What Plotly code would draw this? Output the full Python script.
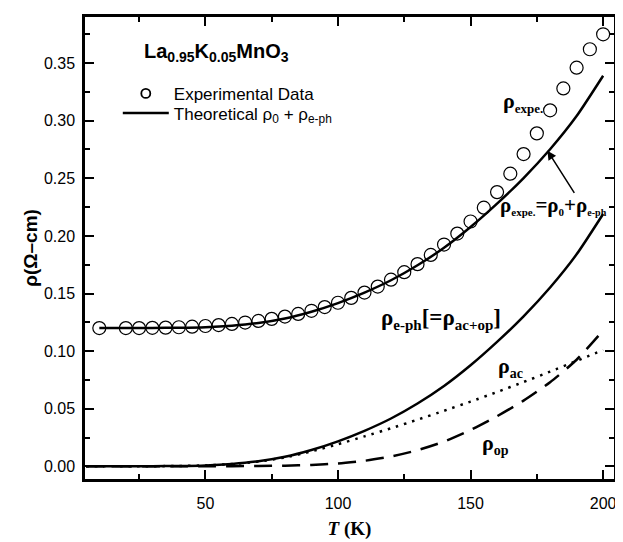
import plotly.graph_objects as go

# ---------------- data ----------------
T_exp = [10, 20, 25, 30, 35, 40, 45, 50, 55, 60, 65, 70, 75, 80, 85, 90, 95, 100,
         105, 110, 115, 120, 125, 130, 135, 140, 145, 150, 155, 160, 165, 170,
         175, 180, 185, 190, 195, 200]
rho_exp = [0.1200, 0.1200, 0.1200, 0.1202, 0.1204, 0.1207, 0.1212, 0.1218, 0.1226,
           0.1236, 0.1248, 0.1262, 0.1280, 0.1300, 0.1323, 0.1350, 0.1382, 0.1420,
           0.1462, 0.1508, 0.1560, 0.1620, 0.1685, 0.1755, 0.1835, 0.1925, 0.2020,
           0.2125, 0.2245, 0.2380, 0.2540, 0.2710, 0.2890, 0.3090, 0.3280, 0.3460,
           0.3620, 0.3750]

T_th = [5, 10, 20, 30, 40, 50, 60, 70, 80, 90, 100, 110, 120, 130, 140, 150,
        160, 170, 180, 190, 200]
rho_ac = [0.0, 0.0, 0.0, 0.0001, 0.0003, 0.0008, 0.0020, 0.0041, 0.0077, 0.0130,
          0.0192, 0.0260, 0.0330, 0.0405, 0.0482, 0.0562, 0.0645, 0.0732, 0.0822,
          0.0915, 0.1010]
rho_op = [0.0, 0.0, 0.0, 0.0, 0.0, 0.0, 0.0001, 0.0003, 0.0006, 0.0012, 0.0025,
          0.0048, 0.0085, 0.0140, 0.0215, 0.0315, 0.0435, 0.0570, 0.0730, 0.0925,
          0.1180]
rho_eph = [0.0, 0.0, 0.0, 0.0001, 0.0003, 0.0008, 0.0021, 0.0044, 0.0083, 0.0142,
           0.0217, 0.0308, 0.0415, 0.0545, 0.0697, 0.0877, 0.1080, 0.1302, 0.1552,
           0.1840, 0.2190]

T_tot = [10, 20, 30, 40, 50, 60, 70, 80, 90, 100, 110, 120, 130, 140, 150, 160,
         170, 180, 190, 200]
rho_tot = [0.1200, 0.1200, 0.1201, 0.1203, 0.1208, 0.1221, 0.1244, 0.1283, 0.1342,
           0.1417, 0.1508, 0.1615, 0.1745, 0.1897, 0.2077, 0.2280, 0.2502, 0.2752,
           0.3040, 0.3390]

x_ticks = [50, 100, 150, 200]
y_ticks = [0.00, 0.05, 0.10, 0.15, 0.20, 0.25, 0.30, 0.35]
y_tick_labels = ["0.00", "0.05", "0.10", "0.15", "0.20", "0.25", "0.30", "0.35"]

# ---------------- figure ----------------
SANS = "Liberation Sans, Arial, sans-serif"
SERIF = "Liberation Serif, Times New Roman, serif"

fig = go.Figure()

# experimental points
fig.add_trace(go.Scatter(
    x=T_exp, y=rho_exp, mode="markers", name="Experimental Data", showlegend=False,
    marker=dict(symbol="circle-open", size=13, color="black", line=dict(width=1.2, color="black")),
))
# legend entry for the points (smaller symbol, as in the reference legend)
fig.add_trace(go.Scatter(
    x=[None], y=[None], mode="markers", name="Experimental Data", legend="legend",
    marker=dict(symbol="circle-open", size=9, color="black", line=dict(width=1.8, color="black")),
))
fig.add_trace(go.Scatter(
    x=T_tot, y=rho_tot, mode="lines", name="Theoretical ρ<sub>0</sub> + ρ<sub>e-ph</sub>",
    legend="legend2",
    line=dict(color="black", width=2.5, shape="spline", smoothing=0.6),
))
fig.add_trace(go.Scatter(
    x=T_th, y=rho_eph, mode="lines", showlegend=False,
    line=dict(color="black", width=2.5, shape="spline", smoothing=0.6),
))
fig.add_trace(go.Scatter(
    x=T_th, y=rho_ac, mode="lines", showlegend=False,
    line=dict(color="black", width=2.5, dash="2.5px,6px", shape="spline", smoothing=0.6),
))
fig.add_trace(go.Scatter(
    x=T_th, y=rho_op, mode="lines", showlegend=False,
    line=dict(color="black", width=2.5, dash="18px,10px", shape="spline", smoothing=0.6),
))

axis_common = dict(
    showline=True, linecolor="black", linewidth=2.5, mirror="ticks",
    ticks="inside", ticklen=9, tickwidth=2, tickcolor="black",
    showgrid=False, zeroline=False,
    tickfont=dict(family=SANS, size=16, color="black"),
)

fig.update_xaxes(
    range=[4.6, 204.1], tickvals=x_ticks, ticktext=[str(v) for v in x_ticks],
    ticklabelstandoff=8,
    minor=dict(dtick=25, tick0=0, ticks="inside", ticklen=5, tickwidth=2, tickcolor="black"),
    title=dict(text="<b><i>T</i> (K)</b>", font=dict(family=SERIF, size=19, color="black"), standoff=11),
    **axis_common,
)
fig.update_yaxes(
    range=[-0.011, 0.390], tickvals=y_ticks, ticktext=y_tick_labels,
    ticklabelstandoff=4,
    minor=dict(dtick=0.025, tick0=0, ticks="inside", ticklen=5, tickwidth=2, tickcolor="black"),
    title=dict(text="<b>ρ(Ω–cm)</b>", font=dict(family=SANS, size=19, color="black"), standoff=2),
    **axis_common,
)


def sub(s, size=12):
    return f"<sub><span style='font-size:{size}px'>{s}</span></sub>"


def py(px):
    """paper y for a screenshot row (plot area spans rows 14..483)"""
    return (483 - px) / 469


legend_common = dict(
    xanchor="left", yanchor="middle",
    bgcolor="rgba(0,0,0,0)", borderwidth=0,
    font=dict(family=SANS, size=17, color="black"),
    itemwidth=46,
)

ann_font = dict(family=SERIF, size=22, color="black")
# the page body has an 8px margin, so the figure is drawn 8px smaller and offset
fig.update_layout(
    width=615, height=534,
    margin=dict(l=77, r=6, t=6, b=59),
    plot_bgcolor="white", paper_bgcolor="white",
    legend=dict(x=0.062, y=py(92), **legend_common),
    legend2=dict(x=0.062, y=py(112), **legend_common),
    annotations=[
        dict(xref="paper", yref="paper", x=(142 - 85) / 532, y=py(50),
             xanchor="left", yanchor="middle", showarrow=False,
             text="<b>La<sub>0.95</sub>K<sub>0.05</sub>MnO<sub>3</sub></b>",
             font=dict(family=SANS, size=20, color="black")),
        dict(x=161.3, y=0.316, xanchor="left", yanchor="middle", showarrow=False,
             text="<b>ρ" + sub("expe.", 13) + "</b>", font=ann_font),
        dict(x=179, y=0.274, ax=189.5, ay=0.236, axref="x", ayref="y",
             showarrow=True, arrowhead=2, arrowsize=1.2, arrowwidth=1.5,
             arrowcolor="black", text=""),
        dict(x=202.4, y=0.226, xanchor="right", yanchor="middle", showarrow=False,
             text="<b>ρ" + sub("expe.", 11) + "=ρ" + sub("0", 11) + "+ρ" + sub("e-ph", 10) + "</b>",
             font=dict(family=SERIF, size=21, color="black")),
        dict(x=138.8, y=0.128, xanchor="center", yanchor="middle", showarrow=False,
             text="<b>ρ" + sub("e-ph", 15) + "[=ρ" + sub("ac+op", 15) + "]</b>",
             font=dict(family=SERIF, size=23, color="black")),
        dict(x=159.5, y=0.086, xanchor="left", yanchor="middle", showarrow=False,
             text="<b>ρ" + sub("ac", 14) + "</b>", font=ann_font),
        dict(x=153.5, y=0.019, xanchor="left", yanchor="middle", showarrow=False,
             text="<b>ρ" + sub("op", 14) + "</b>", font=ann_font),
    ],
)

fig.write_html("out.html")
